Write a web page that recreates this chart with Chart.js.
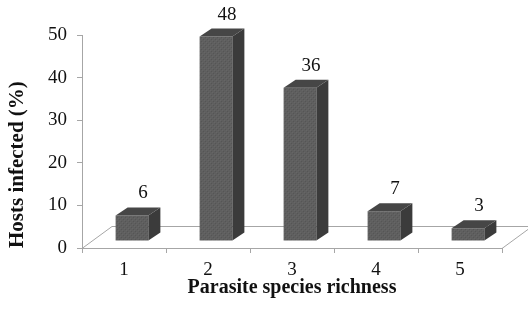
<!DOCTYPE html>
<html>
<head>
<meta charset="utf-8">
<script src="https://cdn.jsdelivr.net/npm/chart.js@4"></script>
<style>
  body { margin: 0; background: #fff; }
</style>
</head>
<body>
<canvas id="myChart" width="528" height="309"></canvas>
<script>
// data
const categories = ["1", "2", "3", "4", "5"];
const hostsInfected = [6, 48, 36, 7, 3];
const yTicks = [0, 10, 20, 30, 40, 50];

// fake 3D: bars stand a little back on the floor
const barShift = { x: 8, y: -7 };
const barDepth = { x: 12, y: -8 };
const floorDepth = { x: 30, y: -22 };
const lineGray = "#a6a6a6";
const serif = "'Liberation Serif', 'Times New Roman', serif";

// small dotted texture for the front faces
function stipple() {
  const c = document.createElement("canvas");
  c.width = 4; c.height = 4;
  const g = c.getContext("2d");
  g.fillStyle = "#5f5f5f";
  g.fillRect(0, 0, 4, 4);
  g.fillStyle = "#555";
  g.fillRect(1, 0, 1, 1);
  g.fillRect(3, 2, 1, 1);
  g.fillStyle = "#666";
  g.fillRect(0, 3, 1, 1);
  g.fillRect(2, 1, 1, 1);
  return g.createPattern(c, "repeat");
}

const box3d = {
  id: "box3d",
  beforeDatasetsDraw(chart) {
    const ctx = chart.ctx;
    const a = chart.chartArea;
    // floor (front edge is the x axis border)
    ctx.save();
    ctx.strokeStyle = lineGray;
    ctx.lineWidth = 1;
    ctx.beginPath();
    ctx.moveTo(a.left, a.bottom + 0.5);
    ctx.lineTo(a.left + floorDepth.x, a.bottom + floorDepth.y + 0.5);
    ctx.lineTo(a.right + floorDepth.x, a.bottom + floorDepth.y + 0.5);
    ctx.lineTo(a.right, a.bottom + 0.5);
    ctx.stroke();
    ctx.restore();

    ctx.save();
    ctx.translate(barShift.x, barShift.y);
  },
  afterDatasetsDraw(chart) {
    const ctx = chart.ctx;
    ctx.restore();
    const meta = chart.getDatasetMeta(0);
    meta.data.forEach((bar, i) => {
      const p = bar.getProps(["x", "y", "base", "width"], true);
      const left = p.x - p.width / 2 + barShift.x;
      const right = p.x + p.width / 2 + barShift.x;
      const top = p.y + barShift.y;
      const bottom = p.base + barShift.y;

      // side
      ctx.fillStyle = "#3b3b3b";
      ctx.beginPath();
      ctx.moveTo(right, top);
      ctx.lineTo(right + barDepth.x, top + barDepth.y);
      ctx.lineTo(right + barDepth.x, bottom + barDepth.y);
      ctx.lineTo(right, bottom);
      ctx.closePath();
      ctx.fill();

      // top
      ctx.fillStyle = "#464646";
      ctx.beginPath();
      ctx.moveTo(left, top);
      ctx.lineTo(left + barDepth.x, top + barDepth.y);
      ctx.lineTo(right + barDepth.x, top + barDepth.y);
      ctx.lineTo(right, top);
      ctx.closePath();
      ctx.fill();

      // value label
      ctx.fillStyle = "#111";
      ctx.font = "19px " + serif;
      ctx.textAlign = "center";
      ctx.textBaseline = "middle";
      ctx.fillText(String(hostsInfected[i]), p.x + barShift.x + 11, top + barDepth.y - 14);
    });
  }
};

const myChart = new Chart(document.getElementById("myChart"), {
  type: "bar",
  data: {
    labels: categories,
    datasets: [
      {
        data: hostsInfected,
        backgroundColor: stipple(),
        borderWidth: 0,
        categoryPercentage: 1,
        barPercentage: 0.39,
        clip: false,
      },
    ],
  },
  options: {
    responsive: false,
    animation: false,
    layout: { padding: { top: 35, right: 26, left: 0, bottom: 0 } },
    plugins: {
      legend: { display: false },
      tooltip: { enabled: false },
    },
    scales: {
      x: {
        grid: {
          offset: true,
          drawOnChartArea: false,
          tickLength: 5,
          color: lineGray,
        },
        border: { color: lineGray },
        ticks: {
          color: "#111",
          padding: 6,
          font: { family: serif, size: 19 },
        },
        title: {
          display: true,
          text: "Parasite species richness",
          color: "#111",
          font: { family: serif, size: 20, weight: "bold" },
          padding: { top: 0, bottom: 9 },
        },
        afterFit(scale) {
          scale.height = 61;
        },
      },
      y: {
        min: 0,
        max: 50,
        afterBuildTicks(scale) {
          scale.ticks = yTicks.map(v => ({ value: v }));
        },
        grid: {
          drawOnChartArea: false,
          tickLength: 5,
          color: lineGray,
        },
        border: { color: lineGray },
        ticks: {
          color: "#111",
          padding: 10,
          font: { family: serif, size: 19 },
        },
        title: {
          display: true,
          text: "Hosts infected (%)",
          align: "start",
          color: "#111",
          font: { family: serif, size: 21, weight: "bold" },
          padding: { top: 5, bottom: 0 },
        },
        afterFit(scale) {
          scale.width = 82;
        },
      },
    },
  },
  plugins: [box3d],
});
</script>
</body>
</html>
